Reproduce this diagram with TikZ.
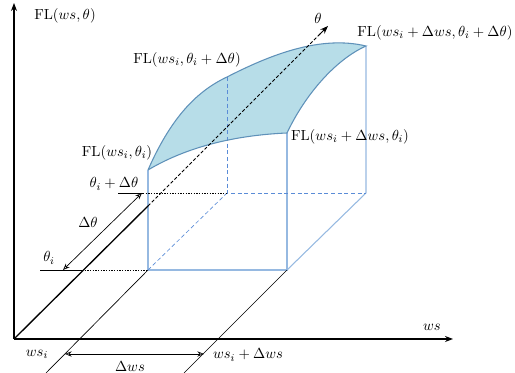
\documentclass[tikz,border=0pt]{standalone}
\usetikzlibrary{arrows.meta,calc}
\definecolor{surf}{RGB}{183,221,232}
\definecolor{surfedge}{RGB}{95,145,185}
\definecolor{boxline}{RGB}{150,185,225}
\definecolor{boxdashc}{RGB}{90,140,215}
\begin{document}
\begin{tikzpicture}[x=0.75pt,y=-0.75pt,
  lbl/.style={font=\fontsize{11}{13}\selectfont, inner sep=1pt},
  axis/.style={line width=0.9pt, -{Stealth[length=6pt,width=4.5pt]}},
  thin/.style={line width=0.5pt},
  dbl/.style={line width=0.5pt, {Stealth[length=5pt,width=4pt,open]}-{Stealth[length=5pt,width=4pt,open]}},
  boxsolid/.style={draw=boxline, line width=0.8pt},
  boxdash/.style={draw=boxdashc, line width=0.7pt, dash pattern=on 3pt off 2pt},
  blkdot/.style={line width=0.6pt, dash pattern=on 1pt off 1pt}]
\useasboundingbox (0,0) rectangle (515,373);
% coordinates
\coordinate (O) at (14,339);
\coordinate (Ytop) at (14,3);
\coordinate (Xend) at (453,339);
\coordinate (A) at (148,270);
\coordinate (B) at (287,270);
\coordinate (C) at (366,193);
\coordinate (D) at (227,193);
\coordinate (A2) at (148,170);
\coordinate (B2) at (287,133);
\coordinate (C2) at (366,46);
\coordinate (D2) at (227,77);
\coordinate (T1) at (148,206);
\coordinate (Tend) at (328,26);
\coordinate (Ti0) at (40,270);
\coordinate (Ti1) at (82,270);
\coordinate (Td0) at (118,193);
\coordinate (Td1) at (143,193);
\coordinate (W1a) at (46,373);
\coordinate (W2a) at (184,373);
\coordinate (DwL) at (65,354);
\coordinate (DwR) at (204,354);
\coordinate (DtB) at (63,270);
\coordinate (DtT) at (142,193);
% surface
\fill[surf] (A2) .. controls (170,120) and (195,92) .. (D2)
  .. controls (270,55) and (320,35) .. (C2)
  .. controls (335,60) and (305,95) .. (B2)
  .. controls (240,135) and (190,145) .. (A2) -- cycle;
% box
\draw[boxsolid] (A2) -- (A) -- (B) -- (B2);
\draw[boxsolid] (B) -- (C) -- (C2);
\draw[boxdash] (D2) -- (D) -- (C);
\draw[boxdash, line width=0.5pt] (A) -- (D);
% surface edges
\draw[surfedge, line width=0.8pt] (A2) .. controls (170,120) and (195,92) .. (D2)
  .. controls (270,55) and (320,35) .. (C2)
  .. controls (335,60) and (305,95) .. (B2)
  .. controls (240,135) and (190,145) .. (A2);
% axes
\draw[axis] (O) -- (Ytop);
\draw[axis] (O) -- (Xend);
\draw[line width=1pt] (O) -- (T1);
\draw[line width=0.6pt, dash pattern=on 2.5pt off 1.5pt] (T1) -- ($(Tend)!0.04!(T1)$);
\draw[line width=0.7pt, -{Stealth[length=6pt,width=4.5pt]}] ($(Tend)!0.05!(T1)$) -- (Tend);
% theta ticks
\draw[thin] (Ti0) -- (Ti1);
\draw[blkdot] (Ti1) -- (A);
\draw[thin] (Td0) -- (Td1);
\draw[blkdot] (Td1) -- (D);
\draw[dbl] (DtB) -- (DtT);
% ws lines
\draw[thin] (W1a) -- (A);
\draw[thin] (W2a) -- (B);
\draw[dbl] (DwL) -- (DwR);
% labels
\node[lbl] (lFL) at (65,16) {$\mathrm{FL}(ws,\theta)$};
\node[lbl] (lFLd) at (187,60) {$\mathrm{FL}(ws_i,\theta_i+\Delta\theta)$};
\node[lbl] (lFLi) at (117,153) {$\mathrm{FL}(ws_i,\theta_i)$};
\node[lbl] (ltd) at (114,184) {$\theta_i+\Delta\theta$};
\node[lbl] (lFLdd) at (435,33) {$\mathrm{FL}(ws_i+\Delta ws,\theta_i+\Delta\theta)$};
\node[lbl] (lFLw) at (350,137) {$\mathrm{FL}(ws_i+\Delta ws,\theta_i)$};
\node[lbl] (lti) at (49,258) {$\theta_i$};
\node[lbl] (ldt) at (88,222) {$\Delta\theta$};
\node[lbl] (lth) at (318,18) {$\theta$};
\node[lbl] (lws) at (432,327) {$ws$};
\node[lbl] (lwsi) at (37,354) {$ws_i$};
\node[lbl] (lwsd) at (248,355) {$ws_i+\Delta ws$};
\node[lbl] (ldws) at (130,367) {$\Delta ws$};
\end{tikzpicture}
\end{document}
